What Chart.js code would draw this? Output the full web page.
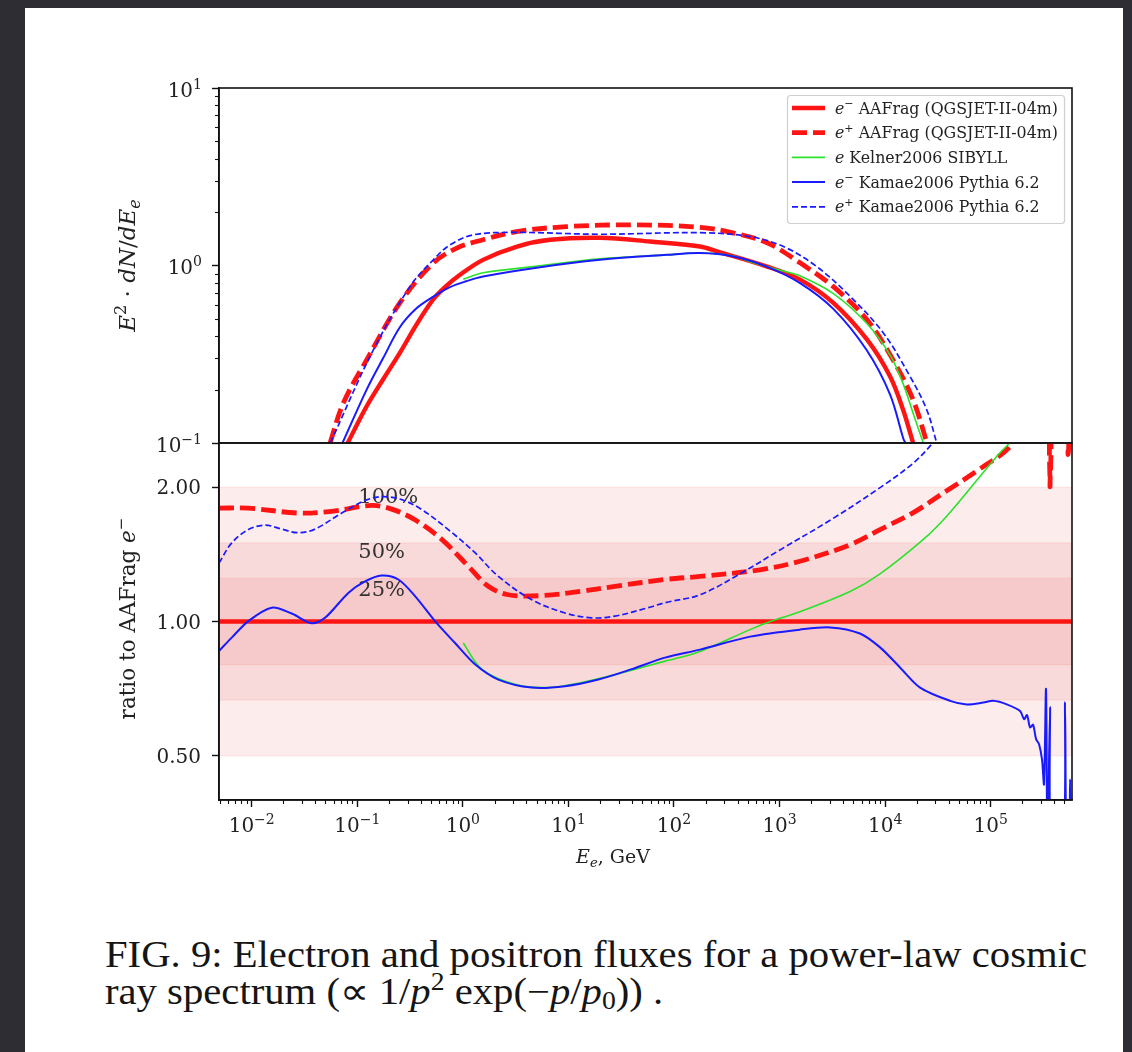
<!DOCTYPE html>
<html><head><meta charset="utf-8">
<script src="https://cdn.jsdelivr.net/npm/chart.js@4.4.0/dist/chart.umd.min.js"></script>
<style>
html,body{margin:0;padding:0;}
body{width:1132px;height:1052px;background:#2e2d33;position:relative;overflow:hidden;}
#page{position:absolute;left:25px;top:8px;width:1098px;height:1044px;background:#fff;}
canvas{position:absolute;left:0;}
#c1{top:0;}
#c2{top:430px;}
.cap{position:absolute;left:105px;font-family:'Liberation Serif',serif;color:#151515;white-space:nowrap;transform-origin:0 0;line-height:1;}
.cap sup{font-size:0.68em;vertical-align:0.55em;line-height:0;}
.cap sub{font-size:0.68em;vertical-align:-0.2em;line-height:0;}
</style></head>
<body>
<div id="page"></div>
<canvas id="c1" width="1132" height="460"></canvas>
<canvas id="c2" width="1132" height="450"></canvas>
<div class="cap" id="cap1">FIG. 9: Electron and positron fluxes for a power-law cosmic</div>
<div class="cap" id="cap2">ray spectrum (∝ 1/<i>p</i><sup>2</sup> exp(−<i>p</i>/<i>p</i><sub>0</sub>)) .</div>
<script>
// ---------- DATA ----------
// Top panel: E^2 dN/dE vs E (GeV)
const eMinusAAFragE    = [0.0811,0.1227,0.1754,0.254,0.360,0.521,0.693,0.94,1.552,3.26,6.70,19.9,59.3,176.6,255.9,762,1563,3214,6745,11143,14791,18408];
const eMinusAAFragFlux = [0.100,0.161,0.228,0.323,0.460,0.641,0.765,0.887,1.076,1.279,1.396,1.432,1.365,1.279,1.200,0.986,0.832,0.617,0.382,0.237,0.154,0.100];

const ePlusAAFragE    = [0.0552,0.0738,0.1227,0.254,0.525,0.875,1.552,3.236,9.64,40.9,176.6,362,762,1563,3214,6745,11885,18408,24946];
const ePlusAAFragFlux = [0.100,0.168,0.294,0.617,1.033,1.253,1.396,1.552,1.656,1.694,1.641,1.528,1.343,1.035,0.762,0.494,0.294,0.175,0.100];

const kelnerE    = [1.009,1.563,4.645,19.9,85.3,176.6,363,525,1086,1563,3214,6745,11143,14791,18408,23014];
const kelnerFlux = [0.838,0.910,0.986,1.091,1.148,1.175,1.132,1.050,0.930,0.875,0.697,0.470,0.313,0.216,0.147,0.100];

const eMinusKamaeE    = [0.0724,0.1227,0.1754,0.254,0.360,0.521,0.755,1.072,1.552,4.645,19.9,85.3,176.6,364.8,755,1563,3228,6653,11117,14859,15600];
const eMinusKamaeFlux = [0.100,0.200,0.300,0.450,0.570,0.665,0.755,0.815,0.867,0.966,1.076,1.148,1.175,1.125,0.986,0.796,0.570,0.335,0.188,0.106,0.100];

const ePlusKamaeE    = [0.0556,0.137,0.316,0.525,0.755,1.256,3.236,19.9,176.6,525,1086,2249,4656,9616,17219,24774,30832];
const ePlusKamaeFlux = [0.100,0.321,0.762,1.076,1.306,1.489,1.535,1.50,1.53,1.455,1.279,0.986,0.670,0.417,0.237,0.154,0.100];

// Bottom panel: ratio to AAFrag e-
const refRatioE = [0.0049,1,589000];
const refRatio  = [1,1,1];

const ePlusAAFragRatioE = [0.0049,0.00929,0.0276,0.0573,0.137,0.212,0.352,0.631,1.127,1.742,2.698,5.585,13.37,27.6,82.2,176.6,653,1563,4656,8954,18493,38282,79068,158125,234423,349140,364754,380189,517607,540754,562341];
const ePlusAAFragRatio  = [1.795,1.795,1.750,1.766,1.820,1.786,1.690,1.528,1.330,1.199,1.148,1.143,1.169,1.199,1.242,1.262,1.306,1.365,1.486,1.607,1.754,1.963,2.198,2.489,3.0,3.0,2.004,3.0,3.0,2.366,3.0];

const kelnerRatioE = [1.009,1.510,3.119,6.457,13.37,27.6,82.2,176.6,526,815,1563,4656,8954,23014,38282,79068,122462,152405,190546];
const kelnerRatio  = [0.895,0.782,0.723,0.711,0.730,0.760,0.815,0.857,0.959,1.0,1.052,1.167,1.279,1.528,1.722,2.113,2.388,2.518,2.692];

const eMinusKamaeRatioE = [0.0049,0.00647,0.00929,0.01545,0.02393,0.03698,0.04943,0.08222,0.1183,0.1702,0.2449,0.3524,0.5445,0.8433,1.303,2.168,4.487,9.29,19.19,39.81,82.2,176.6,526,1563,3006,5781,8954,13836,21429,41210,59293,85114,105925,141906,189671,207014,220800,236048,251768,269153,287078,306196,319890,334195,345144,364754,376704,484172,505825,522396,552077,564937,576766];
const eMinusKamaeRatio  = [0.859,0.920,1.002,1.074,1.042,0.991,1.019,1.159,1.230,1.268,1.242,1.140,1.002,0.895,0.802,0.741,0.711,0.716,0.741,0.782,0.830,0.865,0.925,0.959,0.970,0.940,0.875,0.789,0.711,0.664,0.652,0.658,0.664,0.652,0.630,0.604,0.617,0.579,0.587,0.545,0.531,0.491,0.432,0.705,0.3,0.643,0.3,0.3,0.659,0.3,0.3,0.443,0.3];

const ePlusKamaeRatioE = [0.0049,0.00647,0.00929,0.01337,0.01923,0.0276,0.0398,0.0713,0.1183,0.1702,0.2636,0.4074,0.7278,1.303,2.168,4.487,9.29,16.63,27.6,57.1,82.2,176.6,422.7,1000,3162,8954,18493,28184,39811];
const ePlusKamaeRatio  = [1.352,1.500,1.607,1.644,1.611,1.581,1.611,1.750,1.866,1.905,1.875,1.782,1.607,1.426,1.262,1.119,1.045,1.019,1.028,1.074,1.102,1.148,1.279,1.445,1.698,1.995,2.265,2.512,2.818];

// Axis ticks / labels
const xTickValues = [1e-2,1e-1,1,1e1,1e2,1e3,1e4,1e5];
const xTickExps = ['−2','−1','0','1','2','3','4','5'];
const fluxTickValues = [0.1,1,10];
const fluxTickExps = ['−1','0','1'];
const ratioTickValues = [0.5,1,2];
const ratioTickLabels = ['0.50','1.00','2.00'];
const bandFactors = [2,1.5,1.25];
const bandLabels = ['100%','50%','25%'];
const legendSup = ['−','+','','−','+'];
const legendText = [' AAFrag (QGSJET-II-04m)',' AAFrag (QGSJET-II-04m)',' Kelner2006 SIBYLL',' Kamae2006 Pythia 6.2',' Kamae2006 Pythia 6.2'];

// ---------- helpers ----------
const SERIF = "'DejaVu Serif', serif";
const pts = (xs, ys) => xs.map((x, i) => ({x, y: ys[i]}));
const X_MIN = 0.0049, X_MAX = 589000;
const RED = '#ff1414', BLUE = '#1a1aff', GREEN = '#2be22b';
const INK = '#222';

const styles = [
  {color: RED, width: 4.4, dash: []},
  {color: RED, width: 4.8, dash: [15, 6]},
  {color: GREEN, width: 1.6, dash: []},
  {color: BLUE, width: 2.0, dash: []},
  {color: BLUE, width: 1.7, dash: [6, 3]}
];

function ds(label, xs, ys, st, order, tension) {
  return {label, data: pts(xs, ys), borderColor: st.color, borderWidth: st.width,
    borderDash: st.dash, order, clip: 0, pointRadius: 0, fill: false,
    tension: tension === undefined ? 0.35 : tension, borderCapStyle: 'butt', borderJoinStyle: 'round'};
}

function richWidth(ctx, parts, size) {
  let w = 0;
  parts.forEach(p => {
    const s = (p.sup || p.sub) ? size * 0.7 : size;
    ctx.font = (p.it ? 'italic ' : '') + s + 'px ' + SERIF;
    w += ctx.measureText(p.t).width;
  });
  return w;
}
function drawRich(ctx, parts, size, x, y, align) {
  const w = richWidth(ctx, parts, size);
  let cx = align === 'center' ? x - w / 2 : (align === 'right' ? x - w : x);
  ctx.textBaseline = 'alphabetic';
  ctx.textAlign = 'left';
  parts.forEach(p => {
    const s = (p.sup || p.sub) ? size * 0.7 : size;
    ctx.font = (p.it ? 'italic ' : '') + s + 'px ' + SERIF;
    const dy = p.sup ? -size * 0.4 : (p.sub ? size * 0.2 : 0);
    ctx.fillText(p.t, cx, y + dy);
    cx += ctx.measureText(p.t).width;
  });
}

const framePlugin = {
  id: 'frame',
  afterDatasetsDraw(chart) {
    const {ctx, chartArea: a} = chart;
    ctx.save();
    ctx.strokeStyle = '#111';
    ctx.lineWidth = 1.6;
    ctx.strokeRect(a.left, a.top, a.right - a.left, a.bottom - a.top);
    ctx.restore();
  }
};

const topPlugin = {
  id: 'topExtras',
  afterDraw(chart) {
    const {ctx, chartArea: a, scales: {y}} = chart;
    ctx.save();
    ctx.strokeStyle = '#111'; ctx.lineWidth = 1.1;
    [0.1, 1].forEach(d => { for (let m = 2; m <= 9; m++) {
      const py = Math.round(y.getPixelForValue(m * d)) + 0.5;
      ctx.beginPath(); ctx.moveTo(a.left - 4, py); ctx.lineTo(a.left, py); ctx.stroke();
    }});
    ctx.fillStyle = INK;
    fluxTickValues.forEach((v, i) => {
      drawRich(ctx, [{t: '10'}, {t: fluxTickExps[i], sup: true}], 20, a.left - 17, y.getPixelForValue(v) + 8.5, 'right');
    });
    ctx.translate(135, (a.top + a.bottom) / 2);
    ctx.rotate(-Math.PI / 2);
    drawRich(ctx, [{t: 'E', it: true}, {t: '2', sup: true}, {t: ' · '}, {t: 'dN', it: true}, {t: '/'}, {t: 'dE', it: true}, {t: 'e', it: true, sub: true}], 23, 0, 0, 'center');
    ctx.setTransform(1, 0, 0, 1, 0, 0);
    // legend
    const lx = 787, ly = 95, lw = 277, lh = 128;
    ctx.fillStyle = 'rgba(255,255,255,0.85)';
    ctx.strokeStyle = '#cfcfcf';
    ctx.lineWidth = 1.2;
    ctx.beginPath();
    ctx.roundRect(lx + 0.5, ly + 0.5, lw, lh, 3);
    ctx.fill(); ctx.stroke();
    chart.data.datasets.forEach((d, i) => {
      const rowY = 108 + i * 24.7;
      ctx.strokeStyle = d.borderColor;
      ctx.lineWidth = d.borderWidth;
      ctx.setLineDash(d.borderDash);
      ctx.beginPath(); ctx.moveTo(792, rowY); ctx.lineTo(825, rowY); ctx.stroke();
      ctx.setLineDash([]);
      ctx.fillStyle = INK;
      const parts = [{t: 'e', it: true}];
      if (legendSup[i]) parts.push({t: legendSup[i], sup: true});
      parts.push({t: legendText[i]});
      drawRich(ctx, parts, 15.8, 835, rowY + 5.5, 'left');
    });
    ctx.restore();
  }
};

const bottomPlugin = {
  id: 'bottomExtras',
  beforeDatasetsDraw(chart) {
    const {ctx, chartArea: a, scales: {x, y}} = chart;
    ctx.save();
    ctx.beginPath(); ctx.rect(a.left, a.top, a.right - a.left, a.bottom - a.top); ctx.clip();
    bandFactors.forEach(f => {
      const y1 = y.getPixelForValue(f), y2 = y.getPixelForValue(1 / f);
      ctx.fillStyle = 'rgba(225,30,30,0.085)';
      ctx.fillRect(a.left, y1, a.right - a.left, y2 - y1);
      ctx.strokeStyle = 'rgba(225,40,40,0.10)';
      ctx.lineWidth = 1;
      [y1, y2].forEach(yy => { ctx.beginPath(); ctx.moveTo(a.left, yy); ctx.lineTo(a.right, yy); ctx.stroke(); });
    });
    ctx.fillStyle = '#333';
    ctx.font = '21px ' + SERIF;
    ctx.textAlign = 'left'; ctx.textBaseline = 'alphabetic';
    bandFactors.forEach((f, i) => {
      ctx.fillText(bandLabels[i], x.getPixelForValue(0.1) + 1, y.getPixelForValue(f) + 15.5 + (i === 2 ? 2 : 0));
    });
    ctx.restore();
  },
  afterDraw(chart) {
    const {ctx, chartArea: a, scales: {x, y}} = chart;
    ctx.save(); ctx.strokeStyle = '#111'; ctx.lineWidth = 1.1;
    for (let d = -3; d <= 5; d++) for (let m = 2; m <= 9; m++) {
      const v = m * Math.pow(10, d);
      if (v < X_MIN || v > X_MAX) continue;
      const px = Math.round(x.getPixelForValue(v)) + 0.5;
      ctx.beginPath(); ctx.moveTo(px, a.bottom); ctx.lineTo(px, a.bottom + 4); ctx.stroke();
    }
    ctx.fillStyle = INK;
    xTickValues.forEach((v, i) => {
      drawRich(ctx, [{t: '10'}, {t: xTickExps[i], sup: true}], 20, x.getPixelForValue(v), a.bottom + 32, 'center');
    });
    ctx.font = '20px ' + SERIF;
    ctx.textAlign = 'right'; ctx.textBaseline = 'alphabetic';
    ratioTickValues.forEach((v, i) => {
      ctx.fillText(ratioTickLabels[i], a.left - 18, y.getPixelForValue(v) + 7.3);
    });
    ctx.translate(135, (a.top + a.bottom) / 2 - 3);
    ctx.rotate(-Math.PI / 2);
    drawRich(ctx, [{t: 'ratio to AAFrag '}, {t: 'e', it: true}, {t: '−', sup: true}], 21.5, 0, 0, 'center');
    ctx.setTransform(1, 0, 0, 1, 0, 0);
    drawRich(ctx, [{t: 'E', it: true}, {t: 'e', it: true, sub: true}, {t: ', GeV'}], 19, 613, 863 - 430, 'center');
    ctx.restore();
  }
};

function logAxis(min, max, values, extra) {
  return Object.assign({
    type: 'logarithmic', min, max,
    afterBuildTicks(s) { s.ticks = values.map(v => ({value: v})); },
    ticks: {display: false, autoSkip: false},
    grid: {drawOnChartArea: false, drawTicks: true, tickLength: 7, tickColor: '#111', tickWidth: 1.4},
    border: {display: true, color: '#111', width: 1.6}
  }, extra);
}

Chart.defaults.font.family = SERIF;

new Chart(document.getElementById('c1'), {
  type: 'line',
  data: {datasets: [
    ds('e⁻ AAFrag (QGSJET-II-04m)', eMinusAAFragE, eMinusAAFragFlux, styles[0], 4),
    ds('e⁺ AAFrag (QGSJET-II-04m)', ePlusAAFragE, ePlusAAFragFlux, styles[1], 3),
    ds('e Kelner2006 SIBYLL', kelnerE, kelnerFlux, styles[2], 2),
    ds('e⁻ Kamae2006 Pythia 6.2', eMinusKamaeE, eMinusKamaeFlux, styles[3], 1),
    ds('e⁺ Kamae2006 Pythia 6.2', ePlusKamaeE, ePlusKamaeFlux, styles[4], 0)
  ]},
  options: {
    responsive: false, animation: false, events: [],
    layout: {padding: {top: 88, right: 60, left: 0, bottom: 17}},
    plugins: {legend: {display: false}, tooltip: {enabled: false}},
    scales: {
      x: {type: 'logarithmic', min: X_MIN, max: X_MAX, display: false},
      y: logAxis(0.1, 10, fluxTickValues, {afterFit(s) { s.width = 219; }})
    }
  },
  plugins: [framePlugin, topPlugin]
});

new Chart(document.getElementById('c2'), {
  type: 'line',
  data: {datasets: [
    ds('e⁻ AAFrag (QGSJET-II-04m)', refRatioE, refRatio, styles[0], 4),
    ds('e⁺ AAFrag (QGSJET-II-04m)', ePlusAAFragRatioE, ePlusAAFragRatio, styles[1], 3),
    ds('e Kelner2006 SIBYLL', kelnerRatioE, kelnerRatio, styles[2], 2),
    ds('e⁻ Kamae2006 Pythia 6.2', eMinusKamaeRatioE, eMinusKamaeRatio, styles[3], 1, 0.3),
    ds('e⁺ Kamae2006 Pythia 6.2', ePlusKamaeRatioE, ePlusKamaeRatio, styles[4], 0)
  ]},
  options: {
    responsive: false, animation: false, events: [],
    layout: {padding: {top: 13, right: 60, left: 0, bottom: 0}},
    plugins: {legend: {display: false}, tooltip: {enabled: false}},
    scales: {
      x: logAxis(X_MIN, X_MAX, xTickValues, {afterFit(s) { s.height = 80; }}),
      y: logAxis(1 / 2.512, 2.512, ratioTickValues, {afterFit(s) { s.width = 219; }})
    }
  },
  plugins: [bottomPlugin, framePlugin]
});

// caption sizing
(function () {
  const c1 = document.getElementById('cap1'), c2 = document.getElementById('cap2');
  const fs = 37;
  [c1, c2].forEach(c => { c.style.fontSize = fs + 'px'; });
  const w = c1.getBoundingClientRect().width;
  const sx = 982 / w;
  [c1, c2].forEach(c => { c.style.transform = 'scaleX(' + sx.toFixed(4) + ')'; });
  c1.style.top = '936px';
  c2.style.top = '973px';
})();
</script>
</body></html>
